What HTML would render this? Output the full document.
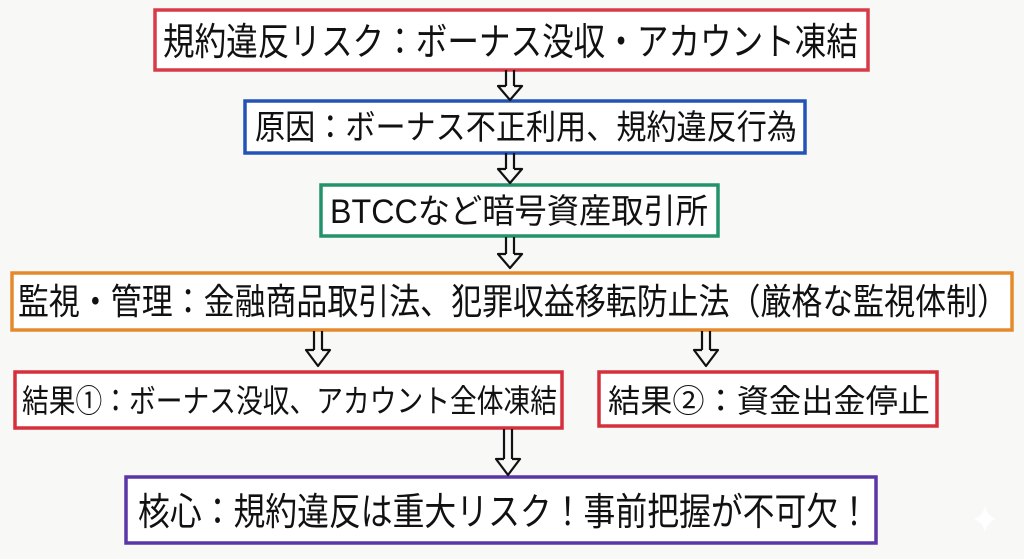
<!DOCTYPE html>
<html><head><meta charset="utf-8"><style>
html,body{margin:0;padding:0;background:#f8f8f7;}
svg{display:block}
text{font-family:"Liberation Sans","Noto Sans CJK JP",sans-serif;fill:#111;}
</style></head><body>
<svg width="1024" height="559" viewBox="0 0 1024 559" xmlns="http://www.w3.org/2000/svg">
<rect width="1024" height="559" fill="#f8f8f7"/>
<g fill="#fff" stroke-width="3.5">
<rect x="155" y="10" width="713" height="60" stroke="#d93a48"/>
<rect x="245" y="101" width="560" height="52" stroke="#2453b8"/>
<rect x="321" y="185" width="397" height="51" stroke="#23936a"/>
<rect x="12" y="273" width="1000" height="57" stroke="#e58a2c"/>
<rect x="15" y="372" width="547" height="56" stroke="#d6303d"/>
<rect x="599" y="372" width="338" height="54" stroke="#d6303d"/>
<rect x="126" y="477" width="750" height="66" stroke="#5a36a8"/>
</g>
<g fill="none" stroke="#111" stroke-width="2.2" stroke-linejoin="round">
<path d="M506 70V86M514 70V86M506 86H498L510 100L522 86H514"/>
<path d="M506 153V169M514 153V169M506 169H498L510 183L522 169H514"/>
<path d="M506 237V254M514 237V254M506 254H498L510 268L522 254H514"/>
<path d="M314 331V350M322 331V350M314 350H306L318 366L330 350H322"/>
<path d="M702 331V350M710 331V350M702 350H694L706 366L718 350H710"/>
<path d="M504 429V459M512 429V459M504 459H496L508 475L520 459H512"/>
</g>
<text x="163" y="55" font-size="38" textLength="695" lengthAdjust="spacingAndGlyphs">規約違反リスク：ボーナス没収・アカウント凍結</text>
<text x="255" y="139" font-size="34" textLength="542" lengthAdjust="spacingAndGlyphs">原因：ボーナス不正利用、規約違反行為</text>
<text x="330" y="223" font-size="34" textLength="378" lengthAdjust="spacingAndGlyphs">BTCCなど暗号資産取引所</text>
<text x="18" y="314" font-size="36" textLength="990" lengthAdjust="spacingAndGlyphs">監視・管理：金融商品取引法、犯罪収益移転防止法（厳格な監視体制）</text>
<text x="22" y="412" font-size="32" textLength="535" lengthAdjust="spacingAndGlyphs">結果①：ボーナス没収、アカウント全体凍結</text>
<text x="608" y="412" font-size="32" textLength="322" lengthAdjust="spacingAndGlyphs">結果②：資金出金停止</text>
<text x="138" y="525" font-size="38" textLength="732" lengthAdjust="spacingAndGlyphs">核心：規約違反は重大リスク！事前把握が不可欠！</text>
<path d="M985 505Q987 517 997 519Q987 521 985 533Q983 521 973 519Q983 517 985 505Z" fill="#fff" opacity="0.9"/>
</svg>
</body></html>
